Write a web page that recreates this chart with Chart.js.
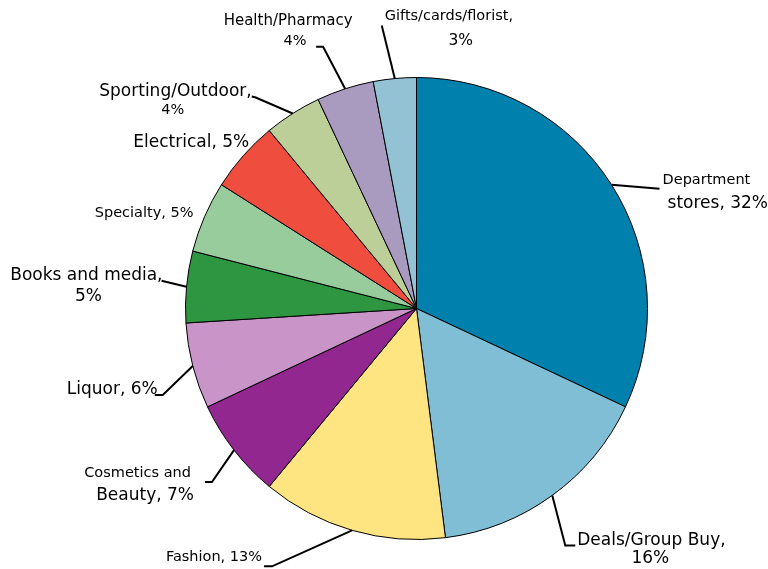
<!DOCTYPE html>
<html>
<head>
<meta charset="utf-8">
<title>Sales by category</title>
<script src="https://cdn.jsdelivr.net/npm/chart.js@4.4.0/dist/chart.umd.min.js"></script>
<style>
	body { margin: 0; background: #fff; }
	#grafico { display: block; }
</style>
</head>
<body>
<canvas id="grafico" width="768" height="569"></canvas>
<script>
// datos del grafico
const categorias = [
	'Department stores',
	'Deals/Group Buy',
	'Fashion',
	'Cosmetics and Beauty',
	'Liquor',
	'Books and media',
	'Specialty',
	'Electrical',
	'Sporting/Outdoor',
	'Health/Pharmacy',
	'Gifts/cards/florist'
];
const porcentajes = [32, 16, 13, 7, 6, 5, 5, 5, 4, 4, 3];
const colores = [
	'#0080ac', '#80bed6', '#fee581', '#92278f', '#c994c7',
	'#2e9641', '#99cc9d', '#ef4e3f', '#bccf98', '#a99bbf', '#93c2d4'
];

// etiquetas: cada linea de texto se coloca respecto al punto medio del arco
const etiquetas = [
	{ guia: [[48, 4]], lineas: [
		{ t: 'Department', dx: 51, dy: -4, s: 14.5, a: 'left' },
		{ t: 'stores, ' + porcentajes[0] + '%', dx: 56, dy: 19, s: 17, a: 'left' }] },
	{ guia: [[13, 50], [23, 50]], lineas: [
		{ t: 'Deals/Group Buy,', dx: 25, dy: 45, s: 17, a: 'left' },
		{ t: porcentajes[1] + '%', dx: 98, dy: 63, s: 17, a: 'center' }] },
	{ guia: [[-80, 36], [-88, 36]], lineas: [
		{ t: 'Fashion, ' + porcentajes[2] + '%', dx: -90, dy: 27, s: 14.5, a: 'right' }] },
	{ guia: [[-22, 32], [-29, 32]], lineas: [
		{ t: 'Cosmetics and', dx: -43, dy: 23, s: 14.5, a: 'right' },
		{ t: 'Beauty, ' + porcentajes[3] + '%', dx: -40, dy: 45, s: 17, a: 'right' }] },
	{ guia: [[-30, 29], [-38, 29]], lineas: [
		{ t: 'Liquor, ' + porcentajes[4] + '%', dx: -35, dy: 24, s: 17, a: 'right' }] },
	{ guia: [[-25, -6]], lineas: [
		{ t: 'Books and media,', dx: -24, dy: -11, s: 17, a: 'right' },
		{ t: porcentajes[5] + '%', dx: -98, dy: 10, s: 17, a: 'center' }] },
	{ guia: [], lineas: [
		{ t: 'Specialty, ' + porcentajes[6] + '%', dx: -11, dy: -4, s: 14.5, a: 'right' }] },
	{ guia: [], lineas: [
		{ t: 'Electrical, ' + porcentajes[7] + '%', dx: 6, dy: -13, s: 17, a: 'right' }] },
	{ guia: [[-37, -16], [-41, -17]], lineas: [
		{ t: 'Sporting/Outdoor,', dx: -41, dy: -22, s: 17, a: 'right' },
		{ t: porcentajes[8] + '%', dx: -120, dy: -3, s: 14.5, a: 'center' }] },
	{ guia: [[-22, -42], [-29, -42]], lineas: [
		{ t: 'Health/Pharmacy', dx: -57, dy: -68, s: 15, a: 'center' },
		{ t: porcentajes[9] + '%', dx: -50, dy: -48, s: 14.5, a: 'center' }] },
	{ guia: [[-13, -53]], lineas: [
		{ t: 'Gifts/cards/florist,', dx: -10, dy: -62, s: 14.5, a: 'left' },
		{ t: porcentajes[10] + '%', dx: 66, dy: -38, s: 15.5, a: 'center' }] }
];

const pluginEtiquetas = {
	id: 'etiquetas',
	afterDraw(chart) {
		const ctx = chart.ctx;
		const arcos = chart.getDatasetMeta(0).data;
		ctx.save();
		arcos.forEach((arco, i) => {
			const et = etiquetas[i];
			if (!et) return;
			const medio = (arco.startAngle + arco.endAngle) / 2;
			const x0 = arco.x + Math.cos(medio) * arco.outerRadius;
			const y0 = arco.y + Math.sin(medio) * arco.outerRadius;
			if (et.guia.length) {
				ctx.beginPath();
				ctx.moveTo(x0, y0);
				et.guia.forEach(p => ctx.lineTo(x0 + p[0], y0 + p[1]));
				ctx.strokeStyle = '#000';
				ctx.lineWidth = 2;
				ctx.lineJoin = 'miter';
				ctx.stroke();
			}
			ctx.fillStyle = '#000';
			ctx.textBaseline = 'middle';
			et.lineas.forEach(l => {
				ctx.font = l.s + 'px "DejaVu Sans"';
				ctx.textAlign = l.a;
				ctx.fillText(l.t, x0 + l.dx, y0 + l.dy);
			});
		});
		ctx.restore();
	}
};

const data = {
	labels: categorias,
	datasets: [{
		data: porcentajes,
		backgroundColor: colores,
		borderColor: '#000',
		borderWidth: 1
	}]
};

const config = {
	type: 'pie',
	data: data,
	options: {
		responsive: false,
		animation: false,
		layout: {
			padding: { left: 185, right: 120, top: 77, bottom: 29 }
		},
		plugins: {
			legend: { display: false },
			tooltip: { enabled: false }
		}
	},
	plugins: [pluginEtiquetas]
};

const grafico = new Chart(document.getElementById('grafico'), config);
</script>
</body>
</html>
